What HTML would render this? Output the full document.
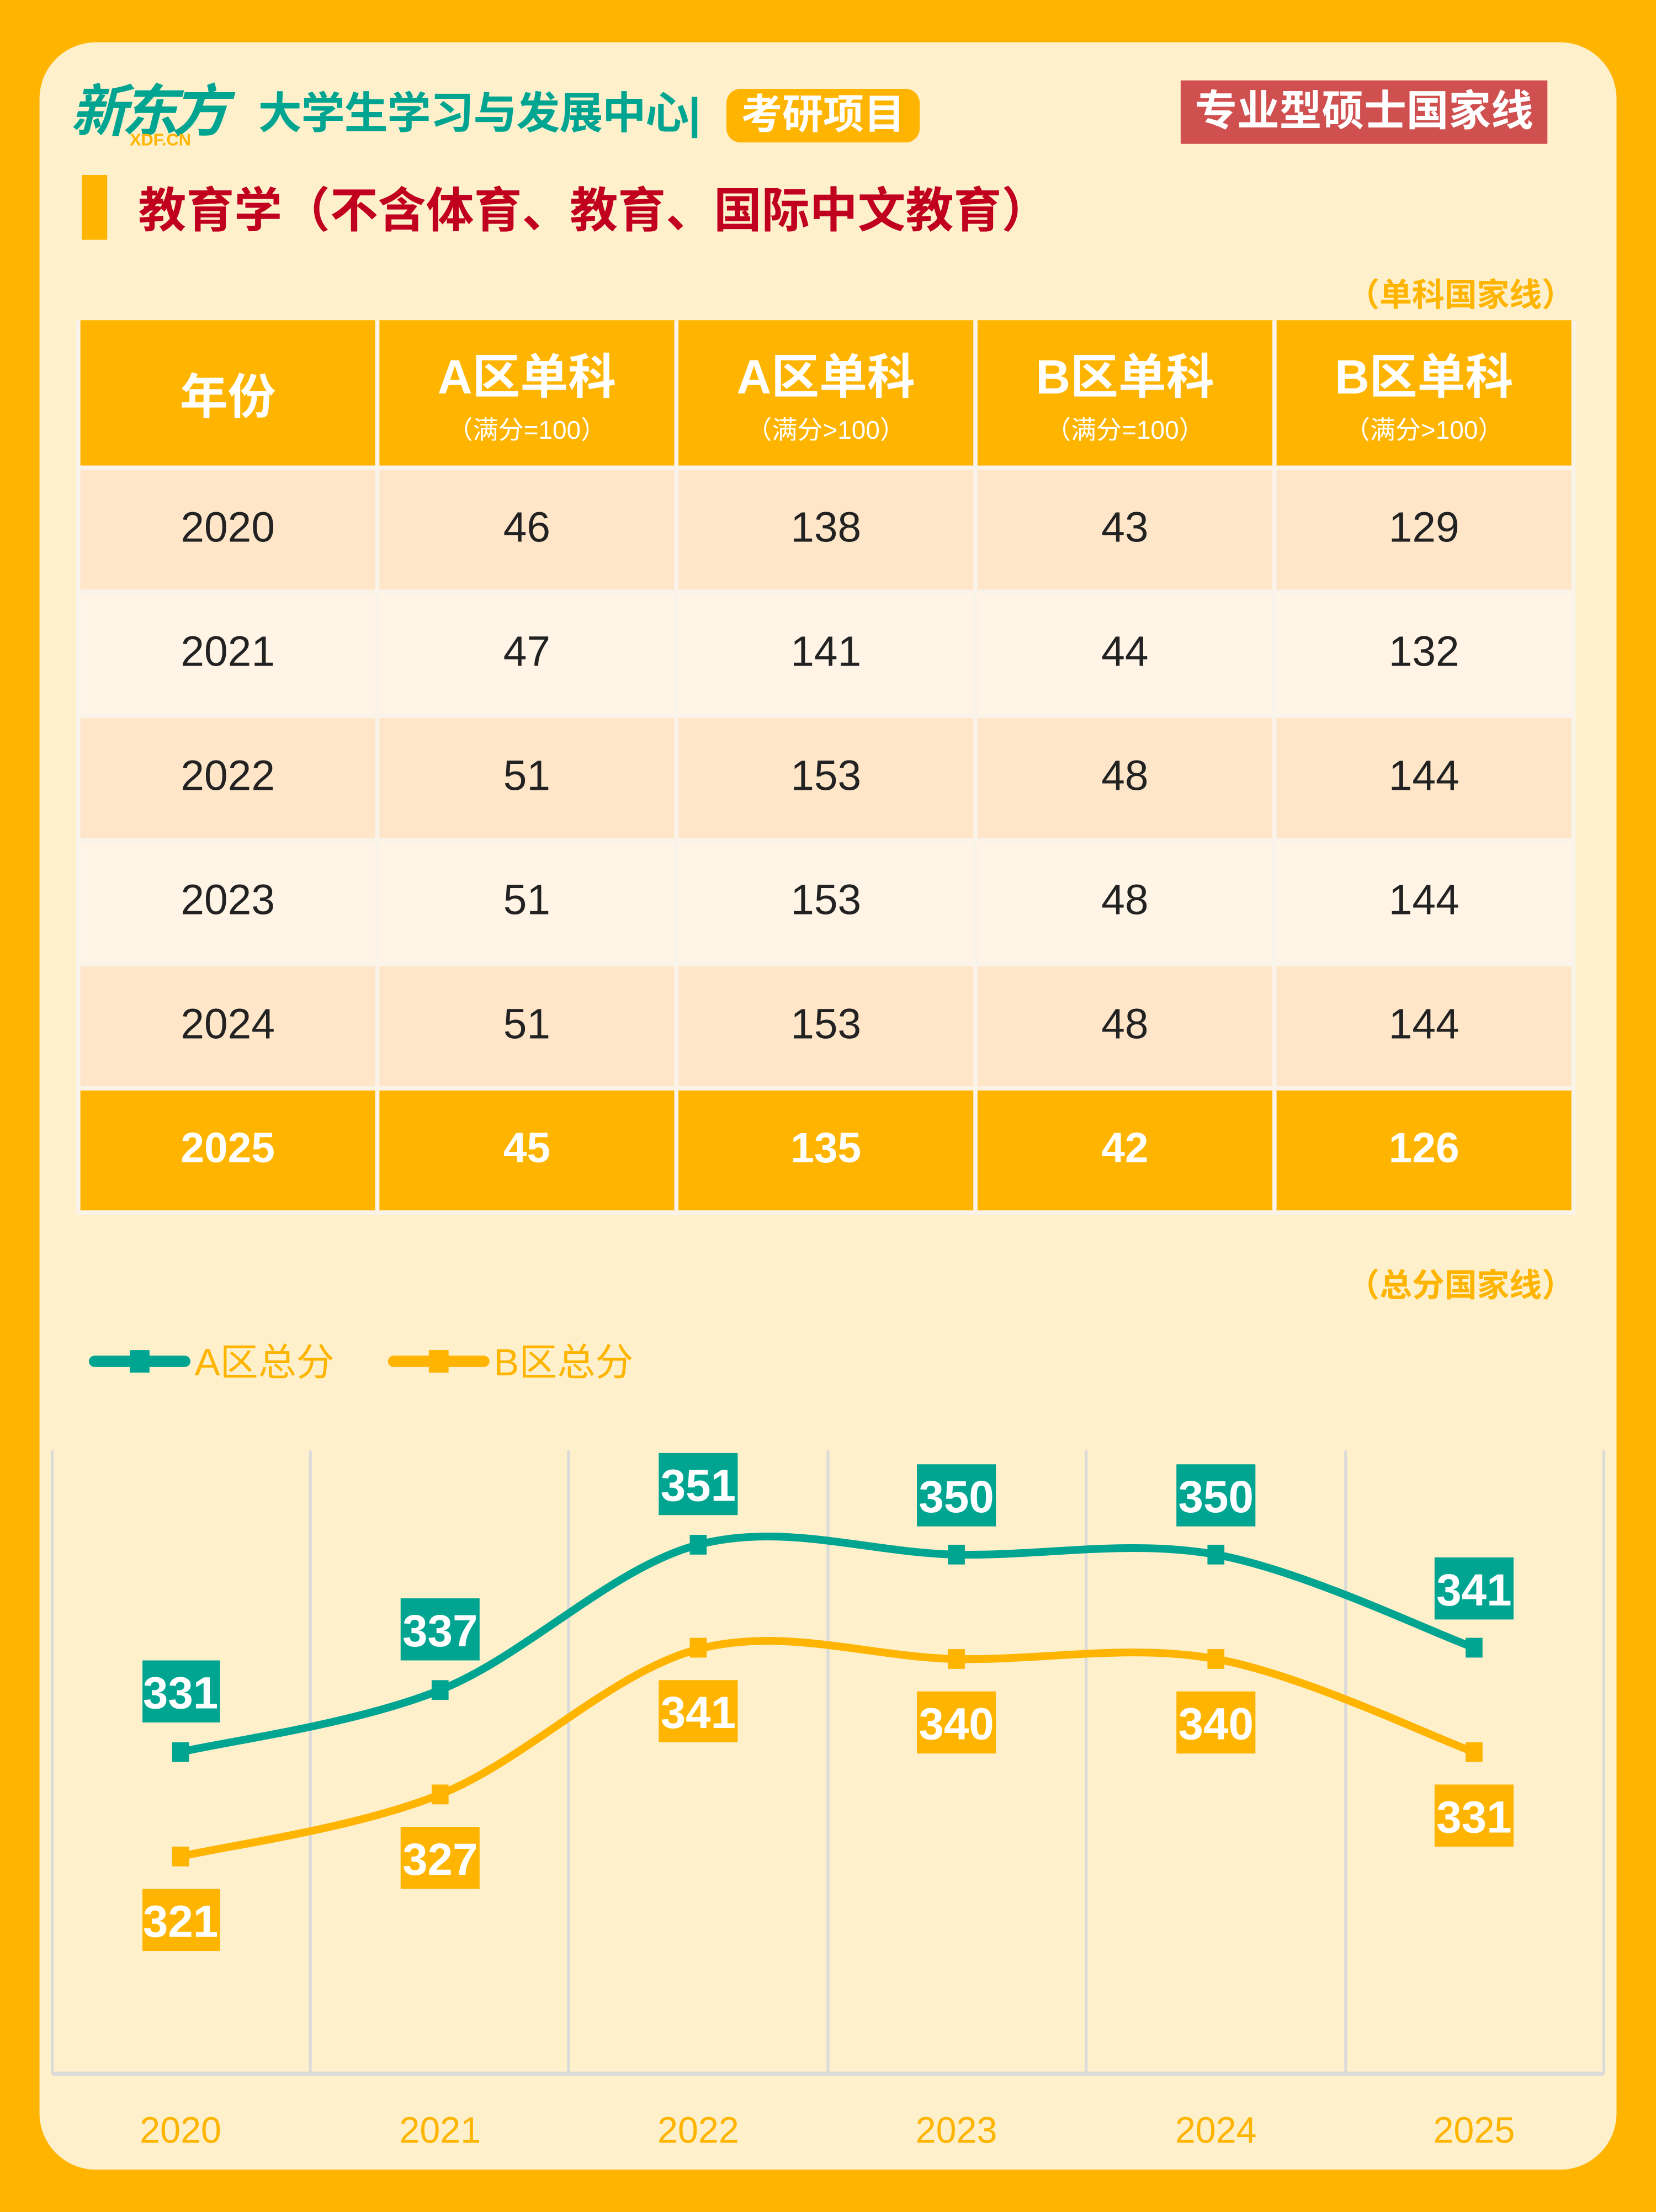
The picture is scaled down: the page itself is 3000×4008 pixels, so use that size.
<!DOCTYPE html>
<html><head><meta charset="utf-8"><style>
*{margin:0;padding:0;box-sizing:border-box}
body{width:3000px;height:4008px;overflow:hidden;background:#FFB400;font-family:"Liberation Sans","Noto Sans CJK SC",sans-serif}
#w{position:absolute;left:0;top:0;width:1174px;height:1568px;transform:scale(2.5554,2.5561);transform-origin:0 0}
.a{position:absolute}
.card{left:28px;top:30px;width:1118px;height:1508px;background:#FEF0CB;border-radius:40px}
table{position:absolute;left:54px;top:227px;border-collapse:collapse}
td{padding:0;text-align:center;border:3px solid #FAF3EA;font-size:30px;color:#222}
td{width:212px}
.h td{background:#FFB400;color:#fff;font-weight:bold;height:104px;border-top:none}
.o td{background:#FFE6C9;height:88px}
.e td{background:#FFF4E5;height:88px}
.l td{background:#FFB400;color:#fff;font-weight:bold;height:88px}
.sub{font-size:18px;font-weight:normal;display:block;margin-top:2px}
</style></head><body><div id="w">
<div class="a card"></div>
<div class="a" style="left:50px;top:58px;font-size:40px;font-weight:bold;font-style:italic;color:#00A592;letter-spacing:-4px;line-height:44px">新东方</div>
<div class="a" style="left:92px;top:92px;font-size:12px;font-weight:bold;color:#FFB400">XDF.CN</div>
<div class="a" style="left:183px;top:61px;font-size:31px;font-weight:bold;color:#00A592;line-height:40px;letter-spacing:-0.5px">大学生学习与发展中心|</div>
<div class="a" style="left:515px;top:63px;width:137px;height:38px;background:#FFB400;border-radius:10px;color:#fff;font-size:29px;font-weight:bold;line-height:38px;text-align:center">考研项目</div>
<div class="a" style="left:837px;top:57px;width:260px;height:45px;background:#D05050;color:#fff;font-size:30px;font-weight:bold;line-height:45px;text-align:center">专业型硕士国家线</div>
<div class="a" style="left:58px;top:124px;width:18px;height:46px;background:#FFB400"></div>
<div class="a" style="left:98px;top:126px;font-size:34px;font-weight:bold;color:#C0001E;line-height:48px">教育学（不含体育、教育、国际中文教育）</div>
<div class="a" style="right:58px;top:190px;font-size:23px;font-weight:bold;color:#FFB400">（单科国家线）</div>
<table>
<tr class="h"><td style="font-size:34px">年份</td><td style="font-size:34px">A区单科<span class="sub">（满分=100）</span></td><td style="font-size:34px">A区单科<span class="sub">（满分&gt;100）</span></td><td style="font-size:34px">B区单科<span class="sub">（满分=100）</span></td><td style="font-size:34px">B区单科<span class="sub">（满分&gt;100）</span></td></tr>
<tr class="o"><td>2020</td><td>46</td><td>138</td><td>43</td><td>129</td></tr>
<tr class="e"><td>2021</td><td>47</td><td>141</td><td>44</td><td>132</td></tr>
<tr class="o"><td>2022</td><td>51</td><td>153</td><td>48</td><td>144</td></tr>
<tr class="e"><td>2023</td><td>51</td><td>153</td><td>48</td><td>144</td></tr>
<tr class="o"><td>2024</td><td>51</td><td>153</td><td>48</td><td>144</td></tr>
<tr class="l"><td>2025</td><td>45</td><td>135</td><td>42</td><td>126</td></tr>
</table>
<div class="a" style="right:58px;top:892px;font-size:23px;font-weight:bold;color:#FFB400">（总分国家线）</div>
<svg class="a" style="left:0;top:0" width="1174" height="1568">
<g stroke="#DADADA" stroke-width="2">
<line x1="37" y1="1028" x2="37" y2="1470"/><line x1="220" y1="1028" x2="220" y2="1470"/><line x1="403" y1="1028" x2="403" y2="1470"/><line x1="587" y1="1028" x2="587" y2="1470"/><line x1="770" y1="1028" x2="770" y2="1470"/><line x1="954" y1="1028" x2="954" y2="1470"/><line x1="1137" y1="1028" x2="1137" y2="1470"/>
<line x1="37" y1="1470" x2="1137" y2="1470" stroke-width="3"/>
</g>
<line x1="67" y1="965" x2="131" y2="965" stroke="#00A592" stroke-width="8" stroke-linecap="round"/><rect x="92" y="957" width="14" height="16" fill="#00A592"/>
<line x1="279" y1="965" x2="343" y2="965" stroke="#FFB400" stroke-width="8" stroke-linecap="round"/><rect x="304" y="957" width="14" height="16" fill="#FFB400"/>
<text x="138" y="975" font-size="27" fill="#FFB400">A区总分</text>
<text x="350" y="975" font-size="27" fill="#FFB400">B区总分</text>
<g fill="none" stroke-width="5.5">
<path stroke="#00A592" d="M128,1242 C158.7,1234.7 250.8,1222.5 312,1198 C373.2,1173.5 434,1111 495,1095 C556,1079 616.8,1100.8 678,1102 C739.2,1103.2 800.8,1091 862,1102 C923.2,1113 1014.5,1157 1045,1168"/>
<path stroke="#FFB400" transform="translate(0,74)" d="M128,1242 C158.7,1234.7 250.8,1222.5 312,1198 C373.2,1173.5 434,1111 495,1095 C556,1079 616.8,1100.8 678,1102 C739.2,1103.2 800.8,1091 862,1102 C923.2,1113 1014.5,1157 1045,1168"/>
</g>
<g fill="#00A592"><rect x="122" y="1235" width="12" height="14"/><rect x="306" y="1191" width="12" height="14"/><rect x="489" y="1088" width="12" height="14"/><rect x="672" y="1095" width="12" height="14"/><rect x="856" y="1095" width="12" height="14"/><rect x="1039" y="1161" width="12" height="14"/></g>
<g fill="#FFB400"><rect x="122" y="1309" width="12" height="14"/><rect x="306" y="1265" width="12" height="14"/><rect x="489" y="1161" width="12" height="14"/><rect x="672" y="1169" width="12" height="14"/><rect x="856" y="1169" width="12" height="14"/><rect x="1039" y="1235" width="12" height="14"/></g>
<g font-size="32" font-weight="bold" fill="#fff" text-anchor="middle">
<rect x="101" y="1177" width="55" height="44" fill="#00A592"/><text x="128" y="1211">331</text>
<rect x="284" y="1133" width="56" height="44" fill="#00A592"/><text x="312" y="1167">337</text>
<rect x="467" y="1030" width="56" height="44" fill="#00A592"/><text x="495" y="1064">351</text>
<rect x="650" y="1038" width="56" height="44" fill="#00A592"/><text x="678" y="1072">350</text>
<rect x="834" y="1038" width="56" height="44" fill="#00A592"/><text x="862" y="1072">350</text>
<rect x="1017" y="1104" width="56" height="44" fill="#00A592"/><text x="1045" y="1138">341</text>
<rect x="101" y="1339" width="55" height="44" fill="#FFB400"/><text x="128" y="1373">321</text>
<rect x="284" y="1295" width="56" height="44" fill="#FFB400"/><text x="312" y="1329">327</text>
<rect x="467" y="1191" width="56" height="44" fill="#FFB400"/><text x="495" y="1225">341</text>
<rect x="650" y="1199" width="56" height="44" fill="#FFB400"/><text x="678" y="1233">340</text>
<rect x="834" y="1199" width="56" height="44" fill="#FFB400"/><text x="862" y="1233">340</text>
<rect x="1017" y="1265" width="56" height="44" fill="#FFB400"/><text x="1045" y="1299">331</text>
</g>
<g font-size="26" fill="#FFB400" text-anchor="middle">
<text x="128" y="1519">2020</text><text x="312" y="1519">2021</text><text x="495" y="1519">2022</text><text x="678" y="1519">2023</text><text x="862" y="1519">2024</text><text x="1045" y="1519">2025</text>
</g>
</svg>
</div></body></html>
